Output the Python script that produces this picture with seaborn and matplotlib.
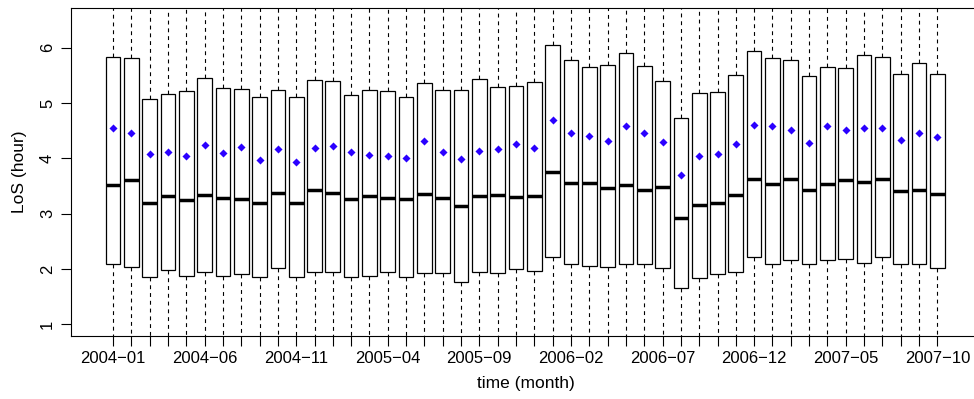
import matplotlib
matplotlib.use("Agg")
import matplotlib.pyplot as plt
import numpy as np
import pandas as pd
import seaborn as sns

# Monthly length-of-stay summaries (hours), Jan 2004 - Oct 2007
months = [f"{y}-{m:02d}" for y in range(2004, 2008) for m in range(1, 13)][:46]

q1 = [2.08, 2.04, 1.85, 1.98, 1.88, 1.94, 1.88, 1.91, 1.86, 2.01,
      1.85, 1.95, 1.95, 1.86, 1.87, 1.94, 1.85, 1.93, 1.93, 1.76,
      1.95, 1.92, 1.99, 1.96, 2.22, 2.08, 2.05, 2.03, 2.08, 2.09,
      2.01, 1.66, 1.84, 1.91, 1.94, 2.21, 2.08, 2.17, 2.08, 2.17,
      2.18, 2.10, 2.22, 2.09, 2.08, 2.01]
median = [3.51, 3.61, 3.19, 3.31, 3.24, 3.33, 3.29, 3.27, 3.20, 3.38,
          3.20, 3.42, 3.37, 3.27, 3.31, 3.28, 3.26, 3.36, 3.29, 3.14,
          3.31, 3.33, 3.30, 3.32, 3.76, 3.55, 3.55, 3.47, 3.51, 3.43,
          3.49, 2.92, 3.15, 3.20, 3.34, 3.62, 3.54, 3.62, 3.43, 3.53,
          3.61, 3.57, 3.62, 3.40, 3.42, 3.36]
q3 = [5.83, 5.81, 5.08, 5.16, 5.22, 5.45, 5.28, 5.25, 5.10, 5.24,
      5.10, 5.42, 5.39, 5.15, 5.24, 5.22, 5.10, 5.36, 5.24, 5.23,
      5.43, 5.29, 5.31, 5.38, 6.05, 5.77, 5.66, 5.68, 5.90, 5.67,
      5.39, 4.72, 5.19, 5.20, 5.50, 5.94, 5.81, 5.77, 5.48, 5.65,
      5.64, 5.87, 5.83, 5.52, 5.72, 5.52]
mean = [4.54, 4.46, 4.08, 4.11, 4.04, 4.24, 4.10, 4.20, 3.97, 4.16,
        3.93, 4.19, 4.23, 4.11, 4.06, 4.04, 4.00, 4.31, 4.12, 3.99,
        4.13, 4.16, 4.26, 4.19, 4.69, 4.45, 4.41, 4.32, 4.59, 4.45,
        4.29, 3.70, 4.04, 4.08, 4.26, 4.61, 4.58, 4.52, 4.27, 4.59,
        4.51, 4.55, 4.54, 4.33, 4.46, 4.38]
# whisker extremes (shortest and longest stays of each month)
los_min = [0.1] * 46
los_max = [9.0] * 46

# five-number summary per month as a long table
rows = []
for i, m in enumerate(months):
    for v in (los_min[i], q1[i], median[i], q3[i], los_max[i]):
        rows.append({"month": m, "los": v})
df = pd.DataFrame(rows)

sns.set_style("ticks")
plt.rcParams["font.family"] = ["Liberation Sans", "DejaVu Sans"]
plt.rcParams["axes.linewidth"] = 0.8
plt.rcParams["axes.labelcolor"] = "black"
plt.rcParams["text.color"] = "black"

fig = plt.figure(figsize=(9.74, 3.99), dpi=100)
W, H = 974, 399
ax = fig.add_axes([71 / W, (H - 336) / H, 909 / W, 328 / H])

sns.boxplot(data=df, x="month", y="los", order=months, ax=ax,
            whis=(0, 100), width=0.8, color="white", linecolor="black",
            linewidth=0.9, showcaps=False, showfliers=False,
            boxprops=dict(facecolor="white", edgecolor="black"),
            medianprops=dict(linewidth=2.5, color="black"),
            whiskerprops=dict(linestyle=(0, (3.5, 3.5)), linewidth=0.8,
                              color="black"))

sns.stripplot(x=months, y=mean, order=months, ax=ax, jitter=False,
              marker="D", size=4.1, color="#2a00ff", linewidth=0, zorder=5)

ax.set_xlim(-2.293, 47.33)
ax.set_ylim(0.787, 6.718)

ax.set_yticks([1, 2, 3, 4, 5, 6])
ax.set_yticklabels(["1", "2", "3", "4", "5", "6"], rotation=90, va="center")
ax.set_xticks(range(len(months)))
ax.set_xticklabels([m.replace("-", "\u2212") if i % 5 == 0 else ""
                    for i, m in enumerate(months)])

ax.tick_params(axis="both", direction="out", length=7.5, width=0.8,
               color="black", labelsize=12, labelcolor="black")
ax.tick_params(axis="x", pad=3.5)
ax.tick_params(axis="y", pad=4)

for side in ("left", "top", "bottom"):
    ax.spines[side].set_visible(True)
    ax.spines[side].set_color("black")
ax.spines["right"].set_visible(False)

ax.set_xlabel("time (month)", fontsize=12.5, color="black")
ax.set_ylabel("LoS (hour)", fontsize=12.5, color="black")
ax.xaxis.set_label_coords(0.5, -0.122)
ax.yaxis.set_label_coords(-0.048, 0.5)

fig.savefig("out.png", dpi=100)
